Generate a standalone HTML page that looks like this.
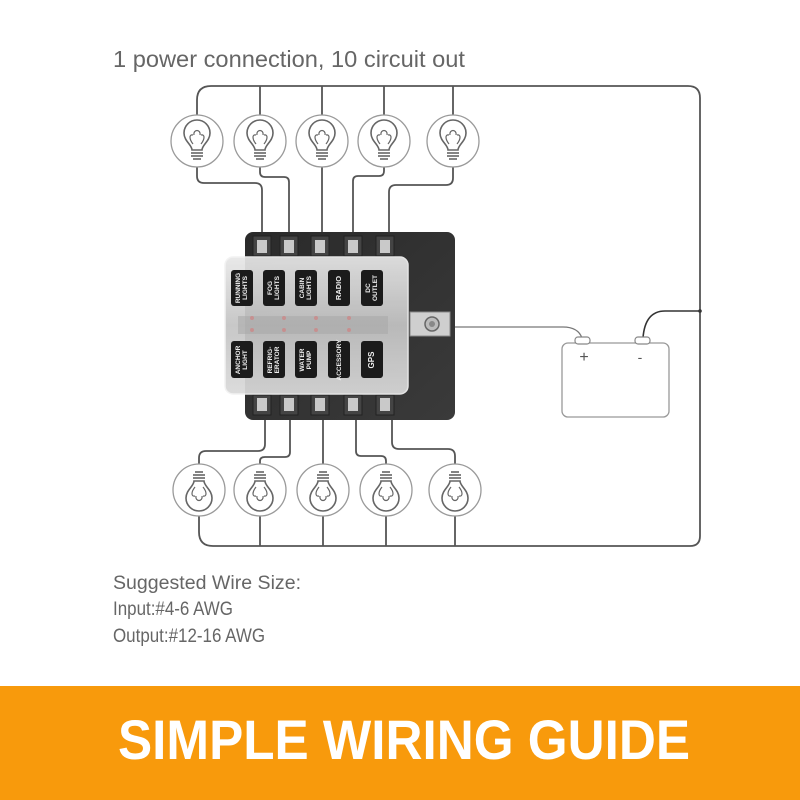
<!DOCTYPE html>
<html><head><meta charset="utf-8"><style>
html,body{margin:0;padding:0;background:#fff;width:800px;height:800px;overflow:hidden}
svg{display:block}
</style></head><body>
<svg width="800" height="800" viewBox="0 0 800 800" xmlns="http://www.w3.org/2000/svg" font-family="Liberation Sans, sans-serif">
<defs>
<g id="bulb">
<circle cx="0" cy="0" r="26" fill="#fff" stroke="#9a9a9a" stroke-width="1.3"/>
<path d="M-5,9 C-5,4 -13,0 -13,-8 A13,13 0 1 1 13,-8 C13,0 5,4 5,9 Z" fill="none" stroke="#666" stroke-width="1.6"/>
<path d="M-4,3 C-8,-2 -8,-7 -4,-6 M4,3 C8,-2 8,-7 4,-6 M-3,-6 C-4,-12 4,-12 3,-6" fill="none" stroke="#666" stroke-width="1.2"/>
<line x1="-6" y1="12" x2="6" y2="12" stroke="#666" stroke-width="1.6"/>
<line x1="-6" y1="15" x2="6" y2="15" stroke="#666" stroke-width="1.6"/>
<line x1="-4" y1="18" x2="4" y2="18" stroke="#666" stroke-width="1.6"/>
</g>
<linearGradient id="base" x1="0" y1="0" x2="1" y2="1"><stop offset="0" stop-color="#2a2a2a"/><stop offset="1" stop-color="#3a3a3a"/></linearGradient>
<linearGradient id="cover" x1="0" y1="0" x2="0" y2="1"><stop offset="0" stop-color="#e8e8e8"/><stop offset="0.5" stop-color="#c4c4c4"/><stop offset="1" stop-color="#dadada"/></linearGradient>
</defs>

<text x="113" y="67" font-size="23" fill="#666" textLength="352" lengthAdjust="spacingAndGlyphs">1 power connection, 10 circuit out</text>

<g fill="none" stroke="#555" stroke-width="1.8">
<path d="M197,115 L197,100 Q197,86 211,86 L688,86 Q700,86 700,98 L700,536 Q700,546 690,546 L213,546 Q199,546 199,532 L199,516"/>
<line x1="260" y1="86" x2="260" y2="115"/>
<line x1="322" y1="86" x2="322" y2="115"/>
<line x1="384" y1="86" x2="384" y2="115"/>
<line x1="453" y1="86" x2="453" y2="115"/>
<line x1="260" y1="546" x2="260" y2="516"/>
<line x1="323" y1="546" x2="323" y2="516"/>
<line x1="386" y1="546" x2="386" y2="516"/>
<line x1="455" y1="546" x2="455" y2="516"/>
<path d="M197,167 L197,176 Q197,183 204,183 L255,183 Q262,183 262,190 L262,240"/>
<path d="M260,167 L260,172 Q260,177 265,177 L284,177 Q289,177 289,182 L289,240"/>
<line x1="322" y1="167" x2="322" y2="240"/>
<path d="M384,167 L384,171 Q384,176 379,176 L358,176 Q353,176 353,181 L353,240"/>
<path d="M453,167 L453,178 Q453,185 446,185 L396,185 Q389,185 389,192 L389,240"/>
<path d="M199,464 L199,458 Q199,451 206,451 L258,451 Q265,451 265,444 L265,415"/>
<path d="M260,464 L260,461 Q260,457 265,457 L285,457 Q290,457 290,452 L290,415"/>
<line x1="323" y1="464" x2="323" y2="415"/>
<path d="M386,464 L386,461 Q386,456 381,456 L361,456 Q356,456 356,451 L356,415"/>
<path d="M455,464 L455,456 Q455,449 448,449 L399,449 Q392,449 392,442 L392,415"/>
<path d="M450,327 L563,327 Q578,327 582,338" stroke="#777" stroke-width="1.3"/>
<path d="M643,338 Q645,311 665,311 L700,311" stroke="#333" stroke-width="1.6"/>
</g>
<circle cx="700" cy="311" r="1.8" fill="#333"/>

<use href="#bulb" x="197" y="141"/>
<use href="#bulb" x="260" y="141"/>
<use href="#bulb" x="322" y="141"/>
<use href="#bulb" x="384" y="141"/>
<use href="#bulb" x="453" y="141"/>
<use href="#bulb" transform="translate(199,490) scale(1,-1)"/>
<use href="#bulb" transform="translate(260,490) scale(1,-1)"/>
<use href="#bulb" transform="translate(323,490) scale(1,-1)"/>
<use href="#bulb" transform="translate(386,490) scale(1,-1)"/>
<use href="#bulb" transform="translate(455,490) scale(1,-1)"/>

<rect x="562" y="343" width="107" height="74" rx="6" fill="#fff" stroke="#999" stroke-width="1.3"/>
<rect x="575" y="337" width="15" height="7" rx="3" fill="#fff" stroke="#888" stroke-width="1.2"/>
<rect x="635" y="337" width="15" height="7" rx="3" fill="#fff" stroke="#888" stroke-width="1.2"/>
<text x="584" y="362" font-size="16" fill="#555" text-anchor="middle">+</text>
<text x="640" y="362" font-size="14" fill="#555" text-anchor="middle">-</text>

<rect x="245" y="232" width="210" height="188" rx="8" fill="url(#base)"/>
<rect x="410" y="312" width="40" height="24" fill="#cfcfcf" stroke="#888"/>
<circle cx="432" cy="324" r="7" fill="#bbb" stroke="#666" stroke-width="1.5"/>
<circle cx="432" cy="324" r="3" fill="#888"/>
<g fill="#444" stroke="#222" stroke-width="1">
<rect x="253" y="236" width="18" height="20"/><rect x="280" y="236" width="18" height="20"/><rect x="311" y="236" width="18" height="20"/><rect x="344" y="236" width="18" height="20"/><rect x="376" y="236" width="18" height="20"/>
<rect x="253" y="395" width="18" height="20"/><rect x="280" y="395" width="18" height="20"/><rect x="311" y="395" width="18" height="20"/><rect x="344" y="395" width="18" height="20"/><rect x="376" y="395" width="18" height="20"/>
</g>
<g fill="#c9c9c9">
<rect x="257" y="240" width="10" height="13"/><rect x="284" y="240" width="10" height="13"/><rect x="315" y="240" width="10" height="13"/><rect x="348" y="240" width="10" height="13"/><rect x="380" y="240" width="10" height="13"/>
<rect x="257" y="398" width="10" height="13"/><rect x="284" y="398" width="10" height="13"/><rect x="315" y="398" width="10" height="13"/><rect x="348" y="398" width="10" height="13"/><rect x="380" y="398" width="10" height="13"/>
</g>
<rect x="225" y="257" width="183" height="137" rx="8" fill="url(#cover)" stroke="#f2f2f2" stroke-width="1.5" opacity="0.93"/>
<rect x="238" y="316" width="150" height="18" fill="#a8a8a8" opacity="0.55"/>
<g fill="#c88" opacity="0.8">
<circle cx="252" cy="318" r="2"/><circle cx="284" cy="318" r="2"/><circle cx="316" cy="318" r="2"/><circle cx="349" cy="318" r="2"/>
<circle cx="252" cy="330" r="2"/><circle cx="284" cy="330" r="2"/><circle cx="316" cy="330" r="2"/><circle cx="349" cy="330" r="2"/>
</g>
<g fill="#1b1b1b">
<rect x="231" y="270" width="22" height="36" rx="3"/><rect x="263" y="270" width="22" height="36" rx="3"/><rect x="295" y="270" width="22" height="36" rx="3"/><rect x="328" y="270" width="22" height="36" rx="3"/><rect x="361" y="270" width="22" height="36" rx="3"/>
<rect x="231" y="341" width="22" height="37" rx="3"/><rect x="263" y="341" width="22" height="37" rx="3"/><rect x="295" y="341" width="22" height="37" rx="3"/><rect x="328" y="341" width="22" height="37" rx="3"/><rect x="361" y="341" width="22" height="37" rx="3"/>
</g>
<g fill="#eee" font-size="6.5" font-weight="bold" text-anchor="middle">
<text transform="translate(240,288) rotate(-90)">RUNNING</text><text transform="translate(247,288) rotate(-90)">LIGHTS</text>
<text transform="translate(272,288) rotate(-90)">FOG</text><text transform="translate(279,288) rotate(-90)">LIGHTS</text>
<text transform="translate(304,288) rotate(-90)">CABIN</text><text transform="translate(311,288) rotate(-90)">LIGHTS</text>
<text transform="translate(341,288) rotate(-90)" font-size="7.5">RADIO</text>
<text transform="translate(370,288) rotate(-90)">DC</text><text transform="translate(377,288) rotate(-90)">OUTLET</text>
<text transform="translate(240,360) rotate(-90)">ANCHOR</text><text transform="translate(247,360) rotate(-90)">LIGHT</text>
<text transform="translate(272,360) rotate(-90)">REFRIG-</text><text transform="translate(279,360) rotate(-90)">ERATOR</text>
<text transform="translate(304,360) rotate(-90)">WATER</text><text transform="translate(311,360) rotate(-90)">PUMP</text>
<text transform="translate(341,360) rotate(-90)">ACCESSORY</text>
<text transform="translate(374,360) rotate(-90)" font-size="8">GPS</text>
</g>

<text x="113" y="589" font-size="19" fill="#666" textLength="188" lengthAdjust="spacingAndGlyphs">Suggested Wire Size:</text>
<text x="113" y="615" font-size="19" fill="#666" textLength="120" lengthAdjust="spacingAndGlyphs">Input:#4-6 AWG</text>
<text x="113" y="642" font-size="19" fill="#666" textLength="152" lengthAdjust="spacingAndGlyphs">Output:#12-16 AWG</text>

<rect x="0" y="686" width="800" height="114" fill="#f89a0c"/>
<text x="118" y="759" font-size="56" font-weight="bold" fill="#fff" textLength="572" lengthAdjust="spacingAndGlyphs">SIMPLE WIRING GUIDE</text>
</svg>
</body></html>
